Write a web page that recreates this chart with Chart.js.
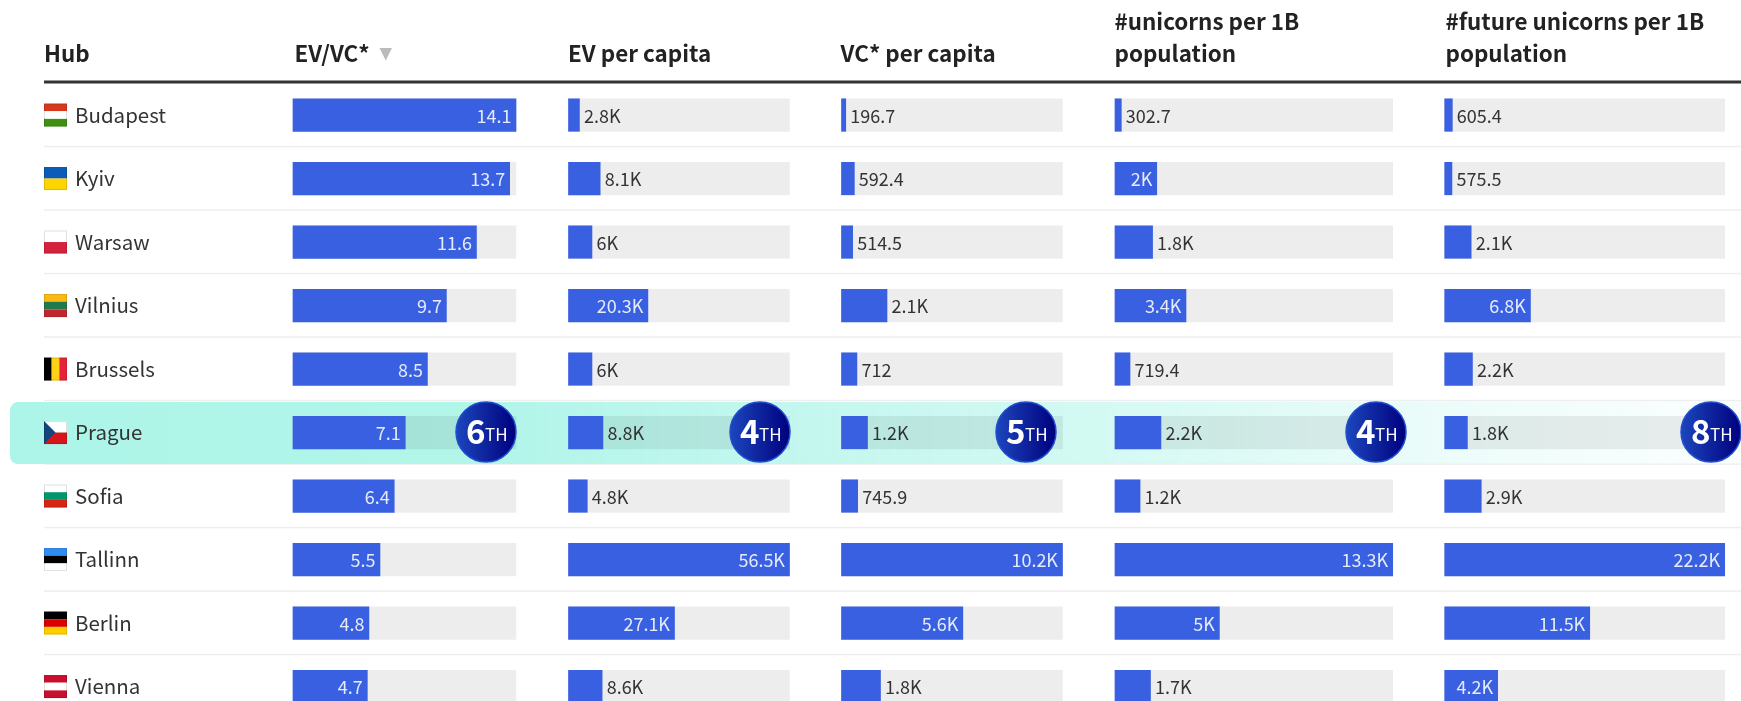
<!DOCTYPE html>
<html><head><meta charset="utf-8">
<style>html,body{margin:0;padding:0;background:#fff;overflow:hidden;width:1741px;height:701px}canvas{display:block}</style>
<script src="https://cdn.jsdelivr.net/npm/chart.js@4/dist/chart.umd.min.js"></script>
</head><body><canvas id="c" width="1741" height="719"></canvas>
<script>
const hubs = ["Budapest","Kyiv","Warsaw","Vilnius","Brussels","Prague","Sofia","Tallinn","Berlin","Vienna"];
const evVc = [14.1,13.7,11.6,9.7,8.5,7.1,6.4,5.5,4.8,4.7];
const evPerCapita = [2800,8100,6000,20300,6000,8800,4800,56500,27100,8600];
const vcPerCapita = [196.7,592.4,514.5,2100,712,1200,745.9,10200,5600,1800];
const unicorns = [302.7,2000,1800,3400,719.4,2200,1200,13300,5000,1700];
const futureUnicorns = [605.4,575.5,2100,6800,2200,1800,2900,22200,11500,4200];
const headers = [["Hub"],["EV/VC*"],["EV per capita"],["VC* per capita"],["#unicorns per 1B","population"],["#future unicorns per 1B","population"]];
const pragueRanks = ["6","4","5","4","8"];
const highlightHub = "Prague";

const FONT = '"Noto Sans CJK SC","Noto Sans",sans-serif';
const BLUE = '#3860e0';
const columns = [evVc,evPerCapita,vcPerCapita,unicorns,futureUnicorns];
const colBox = [[293,516],[568.5,789.5],[841.5,1062.5],[1115,1392.7],[1444.7,1724.7]];
const headX = [44,294.5,568,840.6,1114.5,1445.5];
const badgeX = [486,760,1026,1376,1711];
const flags = {
 Budapest:{h:['#d8391d','#ffffff','#3f8f10']},
 Kyiv:{h:['#0a5cb8','#ffd500']},
 Warsaw:{h:['#ffffff','#d4213d']},
 Vilnius:{h:['#fdb913','#1f7a4d','#c1272d']},
 Brussels:{v:['#000000','#fcd116','#e5223a']},
 Prague:{h:['#ffffff','#d7141a'],tri:'#11457e'},
 Sofia:{h:['#ffffff','#00966e','#d62612']},
 Tallinn:{h:['#2f8cf0','#000000','#ffffff']},
 Berlin:{h:['#000000','#dd0000','#ffce00']},
 Vienna:{h:['#c8102e','#ffffff','#c8102e']}
};
const fmt = v => v>=1000 ? (Math.round(v/100)/10)+'K' : String(v);

const datasets = [], scales = {
  y:{type:'category',labels:hubs,offset:true,position:'left',
     grid:{display:false},border:{display:false},
     afterFit:s=>{s.width=218;},
     ticks:{autoSkip:false,crossAlign:'far',color:'#333',font:{family:FONT,size:20.5},padding:0}}
};
columns.forEach((vals,i)=>{
  const id='x'+i, max=Math.max(...vals);
  scales[id]={type:'linear',display:false,min:0,max:max,position:'top'};
  datasets.push({label:'col'+i,data:vals,xAxisID:id,yAxisID:'y',backgroundColor:BLUE,order:1,grouped:false,barThickness:32.5,clip:false});
  datasets.push({label:'track'+i,data:vals.map(()=>max),xAxisID:id,yAxisID:'y',backgroundColor:'rgba(0,0,0,0.07)',order:2,grouped:false,barThickness:32.5,clip:false});
});

const tablePlugin = {
  id:'table',
  afterLayout(chart){
    colBox.forEach((b,i)=>{
      const s=chart.scales['x'+i];
      s.left=b[0]; s.right=b[1]; s.width=b[1]-b[0]; s.configure();
    });
    const y=chart.scales.y;
    y.top=83.3; y.bottom=718.3; y.height=635; y.configure();
  },
  beforeDraw(chart){
    const {ctx}=chart, y=chart.scales.y, band=y.getPixelForValue(1)-y.getPixelForValue(0);
    ctx.save();
    // row rules
    ctx.fillStyle='#eeeeee';
    hubs.forEach((h,i)=>{ctx.fillRect(44,y.getPixelForValue(i)+band/2-1,1697,1.5);});
    // highlight band
    const iH=hubs.indexOf(highlightHub), cy=y.getPixelForValue(iH);
    const g=ctx.createLinearGradient(10,0,1741,0);
    g.addColorStop(0,'rgba(172,245,232,1)');
    g.addColorStop(.3,'rgba(180,245,234,1)');
    g.addColorStop(.6,'rgba(200,248,240,.85)');
    g.addColorStop(.8,'rgba(222,250,246,.7)');
    g.addColorStop(1,'rgba(242,253,251,.4)');
    ctx.fillStyle=g;
    ctx.beginPath();
    ctx.roundRect(10,cy-30.5,1740,62,8);
    ctx.fill();
    // header rule
    ctx.fillStyle='#333';
    ctx.fillRect(44,80.5,1697,3);
    // headers
    ctx.fillStyle='#222';
    ctx.textBaseline='middle';ctx.textAlign='left';
    ctx.font='700 22.4px '+FONT;
    headers.forEach((lines,i)=>{
      if(lines.length===1){ctx.fillText(lines[0],headX[i],53);}
      else{ctx.fillText(lines[0],headX[i],21.5);ctx.fillText(lines[1],headX[i],53);}
    });
    // sort arrow
    ctx.fillStyle='#bbb';
    ctx.beginPath();ctx.moveTo(379.5,48);ctx.lineTo(392,48);ctx.lineTo(385.75,60.5);ctx.closePath();ctx.fill();
    // flags
    hubs.forEach((h,i)=>{
      const f=flags[h], c=y.getPixelForValue(i), x0=44,w=23,fh=23,t=c-11.5;
      if(f.h){const n=f.h.length;f.h.forEach((col,k)=>{ctx.fillStyle=col;ctx.fillRect(x0,t+k*fh/n,w,fh/n);});}
      if(f.v){const n=f.v.length;f.v.forEach((col,k)=>{ctx.fillStyle=col;ctx.fillRect(x0+k*w/n,t,w/n,fh);});}
      if(f.tri){ctx.fillStyle=f.tri;ctx.beginPath();ctx.moveTo(x0,t);ctx.lineTo(x0+w/2,t+fh/2);ctx.lineTo(x0,t+fh);ctx.closePath();ctx.fill();}
      ctx.strokeStyle='rgba(0,0,0,.12)';ctx.lineWidth=1;ctx.strokeRect(x0+.5,t+.5,w-1,fh-1);
    });
    ctx.restore();
  },
  afterDatasetsDraw(chart){
    const {ctx}=chart, y=chart.scales.y;
    ctx.save();
    // value labels
    ctx.font='18px '+FONT;ctx.textBaseline='middle';
    columns.forEach((vals,i)=>{
      const s=chart.scales['x'+i];
      vals.forEach((v,k)=>{
        const end=s.getPixelForValue(v), w=end-s.left, t=fmt(v), tw=ctx.measureText(t).width, c=y.getPixelForValue(k)+1;
        if(w>=tw+16){ctx.textAlign='right';ctx.fillStyle='#e6ebfb';ctx.fillText(t,end-4.5,c);}
        else{ctx.textAlign='left';ctx.fillStyle='#333';ctx.fillText(t,end+4.5,c);}
      });
    });
    // rank badges
    const cy=y.getPixelForValue(hubs.indexOf(highlightHub))-0.5, r=30;
    pragueRanks.forEach((rank,i)=>{
      const cx=badgeX[i];
      const g=ctx.createLinearGradient(cx-r,0,cx+r,0);
      g.addColorStop(0,'#1c46bd');g.addColorStop(1,'#00007e');
      ctx.beginPath();ctx.arc(cx,cy,r,0,Math.PI*2);ctx.fillStyle=g;ctx.fill();
      ctx.lineWidth=1.5;ctx.strokeStyle='#1f4fd0';ctx.stroke();
      ctx.fillStyle='#fff';ctx.textBaseline='alphabetic';ctx.textAlign='left';
      ctx.font='700 33px '+FONT;
      const dw=ctx.measureText(rank).width;
      ctx.fillText(rank,cx-20,cy+12);
      ctx.font='17px '+FONT;
      ctx.fillText('TH',cx-20+dw-0.5,cy+9);
    });
    ctx.restore();
  }
};

new Chart(document.getElementById('c'),{
  type:'bar',
  data:{labels:hubs,datasets},
  options:{
    indexAxis:'y',responsive:false,animation:false,
    layout:{padding:{left:75,right:0,top:82.75,bottom:0}},
    plugins:{legend:{display:false},tooltip:{enabled:false},title:{display:false}},
    scales
  },
  plugins:[tablePlugin]
});
</script></body></html>
